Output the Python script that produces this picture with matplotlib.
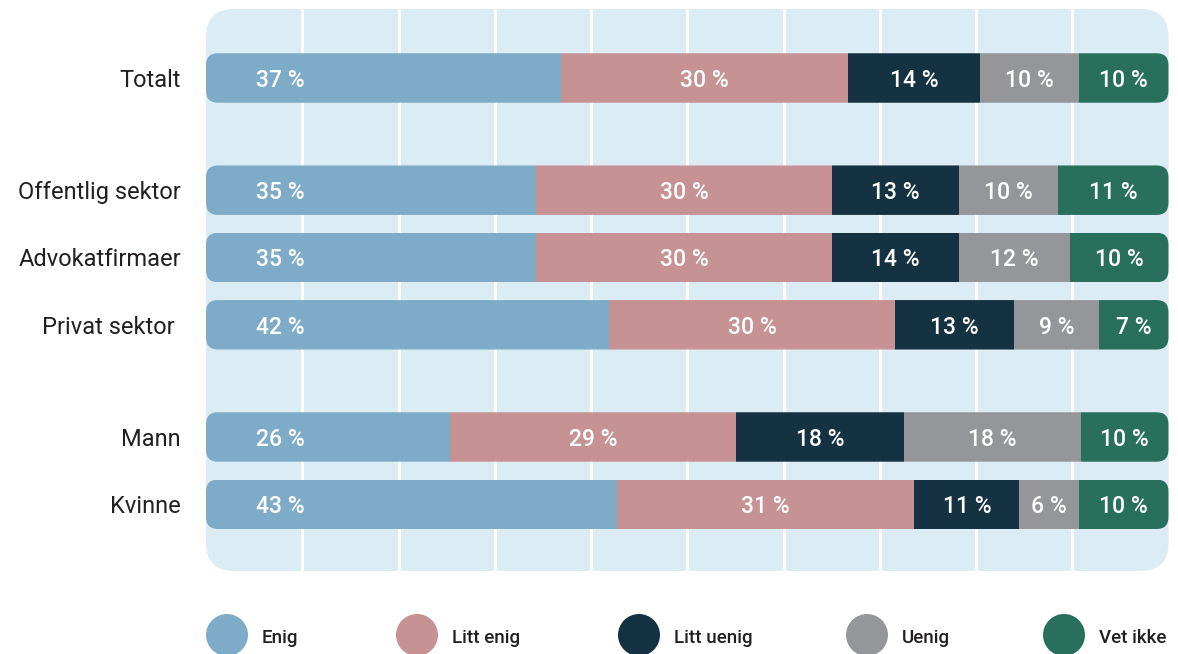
import matplotlib
matplotlib.use("Agg")
import matplotlib.pyplot as plt
from matplotlib.patches import FancyBboxPatch, Circle

plt.rcParams['font.family'] = ['Roboto', 'DejaVu Sans']

# ---- data ----
categories = ["Totalt", "Offentlig sektor", "Advokatfirmaer", "Privat sektor ", "Mann", "Kvinne"]
groups = [0, 1, 1, 1, 2, 2]
responses = ["Enig", "Litt enig", "Litt uenig", "Uenig", "Vet ikke"]

# shares as drawn (bar widths, % of total)
enig = [36.9, 34.3, 34.3, 41.9, 25.4, 42.7]
litt_enig = [29.8, 30.7, 30.7, 29.7, 29.7, 30.9]
litt_uenig = [13.7, 13.2, 13.2, 12.3, 17.4, 10.9]
uenig = [10.3, 10.3, 11.6, 8.9, 18.4, 6.2]
vet_ikke = [9.3, 11.5, 10.2, 7.2, 9.1, 9.3]

# printed labels
enig_lbl = [37, 35, 35, 42, 26, 43]
litt_enig_lbl = [30, 30, 30, 30, 29, 31]
litt_uenig_lbl = [14, 13, 14, 13, 18, 11]
uenig_lbl = [10, 10, 12, 9, 18, 6]
vet_ikke_lbl = [10, 11, 10, 7, 10, 10]

series = [enig, litt_enig, litt_uenig, uenig, vet_ikke]
series_lbl = [enig_lbl, litt_enig_lbl, litt_uenig_lbl, uenig_lbl, vet_ikke_lbl]
colors = ["#7EACC8", "#C69294", "#143241", "#959699", "#286F5C"]

# ---- layout ----
W, H = 1178, 654
fig = plt.figure(figsize=(W / 100, H / 100), dpi=100)
px_left, px_right, px_top, px_bot = 206, 1168.5, 9, 571
ax = fig.add_axes([px_left / W, 1 - px_bot / H, (px_right - px_left) / W, (px_bot - px_top) / H])
ax.set_facecolor("none")
for s in ax.spines.values():
    s.set_visible(False)
ax.set_xticks([])
ax.set_yticks([])

gap = 0.667
ypos = [i + g * gap for i, g in enumerate(groups)]
pitch = 67.3  # px per y unit
y_top = -(78 - px_top) / pitch
y_bot = y_top + (px_bot - px_top) / pitch
ax.set_xlim(0, 100)
ax.set_ylim(y_bot, y_top)

px_per_x = (px_right - px_left) / 100
aspect = px_per_x / pitch

# panel
panel_r = 28
panel = FancyBboxPatch((0, 0), 1, 1, boxstyle=f"round,pad=0,rounding_size={panel_r / (px_right - px_left)}",
                       mutation_aspect=(px_right - px_left) / (px_bot - px_top),
                       transform=ax.transAxes, facecolor="#DCECF5", edgecolor="none",
                       zorder=0, clip_on=False)
ax.add_patch(panel)

# grid
ax.vlines(range(10, 100, 10), y_bot, y_top, colors="white", linewidth=2.2, zorder=1)

bar_h = 0.735
bar_r = 12 / px_per_x
for i, y in enumerate(ypos):
    clip = FancyBboxPatch((0, y - bar_h / 2), 100, bar_h,
                          boxstyle=f"round,pad=0,rounding_size={bar_r}",
                          mutation_aspect=aspect, transform=ax.transData,
                          facecolor="none", edgecolor="none")
    left = 0
    for k, (vals, lbls) in enumerate(zip(series, series_lbl)):
        w = vals[i]
        bars = ax.barh(y, w, left=left, height=bar_h, color=colors[k], edgecolor="none", zorder=2)
        for b in bars:
            b.set_clip_path(clip)
        xt = 7.7 if k == 0 else left + w / 2
        ax.text(xt, y, f"{lbls[i]} %", ha="center", va="center_baseline", color="white",
                fontsize=16.5, fontweight="medium", zorder=3)
        left += w
    ax.text(-2.6, y, categories[i], ha="right", va="center_baseline", color="#231F20",
            fontsize=17, clip_on=False)

# legend
lax = fig.add_axes([0, 0, 1, 1], zorder=-1)
lax.set_xlim(0, W)
lax.set_ylim(H, 0)
lax.axis("off")
leg_x = [227, 417, 639, 867, 1064]
for name, c, x in zip(responses, colors, leg_x):
    lax.add_patch(Circle((x, 635), 21, facecolor=c, edgecolor="none"))
    lax.text(x + 35, 643, name, ha="left", va="baseline", color="#231F20",
             fontsize=13.5, fontweight="medium")

fig.savefig("out.png", dpi=100)
